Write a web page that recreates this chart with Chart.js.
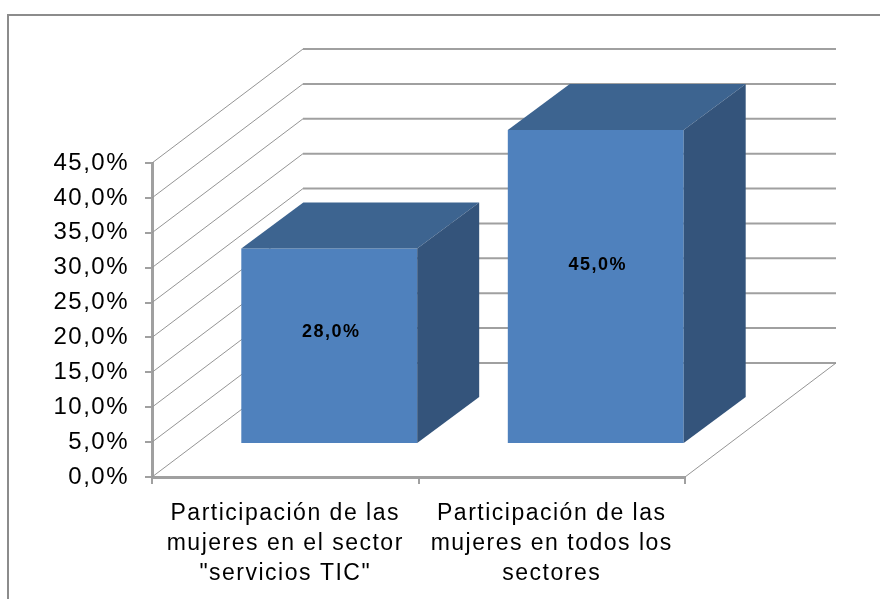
<!DOCTYPE html>
<html>
<head>
<meta charset="utf-8">
<script src="https://cdn.jsdelivr.net/npm/chart.js@4.4.1/dist/chart.umd.min.js"></script>
<style>
    html, body { margin: 0; padding: 0; background: #FFFFFF; }
    #wrap { width: 880px; height: 599px; position: relative; }
</style>
</head>
<body>
<div id="wrap"><canvas id="chart"></canvas></div>
<script>
// Chart data
const categories = [
    ['Participación de las', 'mujeres en el sector', '"servicios TIC"'],
    ['Participación de las', 'mujeres en todos los', 'sectores'],
];
const values = [28, 45];
const yMin = 0;
const yMax = 45;
const yStep = 5;

// 3D look: depth of the back wall, position and depth of the bars
const WALL_DX = 151, WALL_DY = -114;
const BAR_DX = 44, BAR_DY = -33;
const DEPTH_DX = 62, DEPTH_DY = -46;

const FRONT = '#4F81BD';
const TOP = '#3D6490';
const SIDE = '#34547B';
const GRID = '#A0A0A0';
const FONT = '"Liberation Sans", Arial, sans-serif';

function pct(v) {
    return v.toFixed(1).replace('.', ',') + '%';
}

const frame = {
    id: 'frame',
    beforeDraw(chart) {
        const ctx = chart.ctx;
        ctx.letterSpacing = '1.5px';
        ctx.save();
        ctx.fillStyle = '#FFFFFF';
        ctx.fillRect(0, 0, chart.width, chart.height);
        ctx.strokeStyle = '#8C8C8C';
        ctx.lineWidth = 2;
        ctx.strokeRect(8, 15, chart.width + 20, chart.height + 20);
        ctx.restore();
    },
};

const walls = {
    id: 'walls',
    beforeDatasetsDraw(chart) {
        const ctx = chart.ctx;
        const y = chart.scales.y;
        const area = chart.chartArea;
        ctx.save();
        y.ticks.forEach(t => {
            const py = y.getPixelForValue(t.value);
            ctx.strokeStyle = '#959595';
            ctx.lineWidth = 1;
            ctx.beginPath();
            ctx.moveTo(area.left, py);
            ctx.lineTo(area.left + WALL_DX, py + WALL_DY);
            ctx.stroke();
            ctx.strokeStyle = GRID;
            ctx.lineWidth = 2;
            ctx.beginPath();
            ctx.moveTo(area.left + WALL_DX, py + WALL_DY);
            ctx.lineTo(area.right + WALL_DX, py + WALL_DY);
            ctx.stroke();
        });
        // right edge of the floor
        const base = y.getPixelForValue(yMin);
        ctx.strokeStyle = '#959595';
        ctx.lineWidth = 1;
        ctx.beginPath();
        ctx.moveTo(area.right, base);
        ctx.lineTo(area.right + WALL_DX, base + WALL_DY);
        ctx.stroke();
        ctx.restore();

        // push the bars into the depth
        ctx.save();
        ctx.translate(BAR_DX, BAR_DY);
    },
    afterDatasetsDraw(chart) {
        const ctx = chart.ctx;
        const meta = chart.getDatasetMeta(0);
        meta.data.forEach(bar => {
            const { x, y, base, width } = bar.getProps(['x', 'y', 'base', 'width'], true);
            const l = x - width / 2, r = x + width / 2;
            ctx.fillStyle = TOP;
            ctx.beginPath();
            ctx.moveTo(l, y);
            ctx.lineTo(r, y);
            ctx.lineTo(r + DEPTH_DX, y + DEPTH_DY);
            ctx.lineTo(l + DEPTH_DX, y + DEPTH_DY);
            ctx.closePath();
            ctx.fill();
            ctx.fillStyle = SIDE;
            ctx.beginPath();
            ctx.moveTo(r, y);
            ctx.lineTo(r + DEPTH_DX, y + DEPTH_DY);
            ctx.lineTo(r + DEPTH_DX, base + DEPTH_DY);
            ctx.lineTo(r, base);
            ctx.closePath();
            ctx.fill();
        });
        // value labels on the front faces
        ctx.fillStyle = '#000000';
        ctx.font = 'bold 18px ' + FONT;
        ctx.letterSpacing = '1.5px';
        ctx.textAlign = 'center';
        ctx.textBaseline = 'middle';
        meta.data.forEach((bar, i) => {
            const { x, y, base } = bar.getProps(['x', 'y', 'base'], true);
            ctx.fillText(pct(values[i]), x + 2, y + (base - y) * 0.43);
        });
        ctx.restore();
    },
};

new Chart(document.getElementById('chart'), {
    type: 'bar',
    data: {
        labels: categories,
        datasets: [{
            data: values,
            backgroundColor: FRONT,
            borderWidth: 0,
            categoryPercentage: 1,
            barPercentage: 0.66,
            clip: false,
        }],
    },
    options: {
        responsive: true,
        maintainAspectRatio: false,
        animation: false,
        layout: {
            padding: { left: 0, top: 163, right: 195, bottom: 0 },
        },
        plugins: {
            legend: { display: false },
            tooltip: { enabled: false },
        },
        scales: {
            x: {
                afterFit(scale) { scale.height = 122; },
                grid: {
                    offset: true,
                    drawOnChartArea: false,
                    drawTicks: true,
                    tickLength: 7,
                    color: GRID,
                    lineWidth: 2,
                },
                border: { display: true, color: GRID, width: 3 },
                ticks: {
                    color: '#000000',
                    padding: 15,
                    maxRotation: 0,
                    autoSkip: false,
                    font: { family: FONT, size: 23, lineHeight: 1.3 },
                },
            },
            y: {
                min: yMin,
                max: yMax,
                afterFit(scale) { scale.width = 152; },
                grid: {
                    drawOnChartArea: false,
                    drawTicks: true,
                    tickLength: 7,
                    color: GRID,
                    lineWidth: 2,
                },
                border: { display: true, color: GRID, width: 3 },
                ticks: {
                    stepSize: yStep,
                    color: '#000000',
                    padding: 16,
                    callback: v => pct(v),
                    font: { family: FONT, size: 24 },
                },
            },
        },
    },
    plugins: [frame, walls],
});
</script>
</body>
</html>
